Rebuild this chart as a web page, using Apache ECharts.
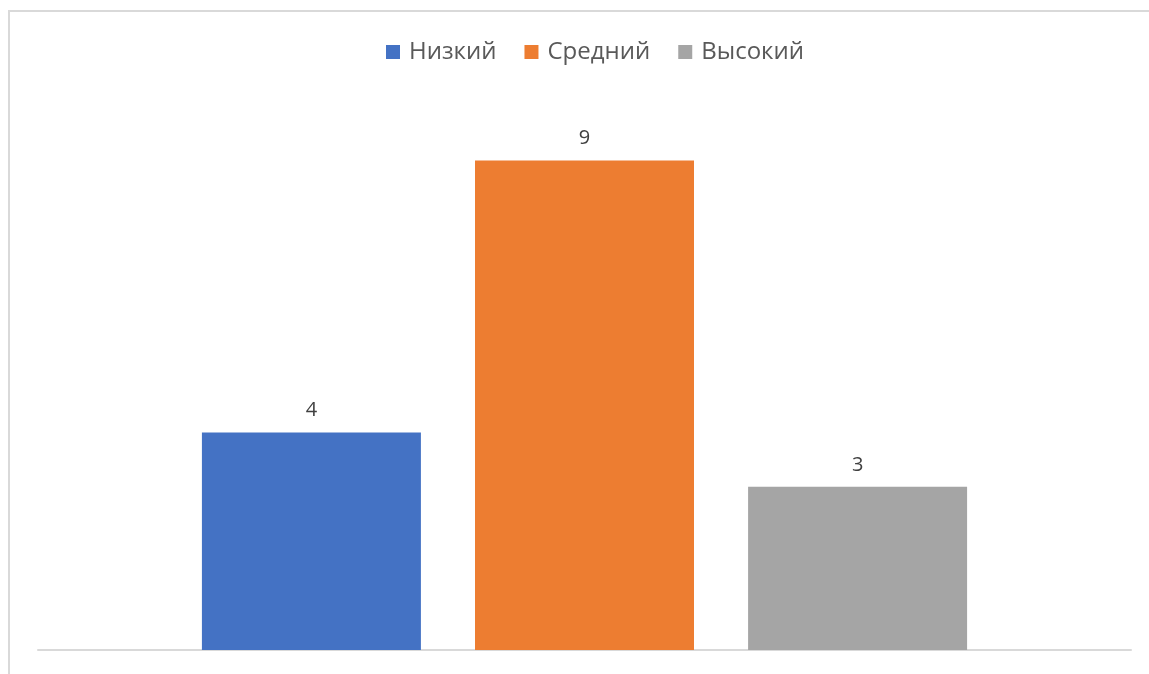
<!DOCTYPE html>
<html>
<head>
<meta charset="utf-8">
<script src="https://cdn.jsdelivr.net/npm/echarts@6/dist/echarts.min.js"></script>
<style>
  html, body { margin: 0; padding: 0; background: #ffffff; overflow: hidden; }
  #chart { width: 1149px; height: 674px; }
</style>
</head>
<body>
<div id="chart"></div>
<script>
// Distribution of levels
const categories = [''];
const seriesNames = ['Низкий', 'Средний', 'Высокий'];
const seriesValues = [[4], [9], [3]];
const seriesColors = ['#4472c4', '#ed7d31', '#a5a5a5'];

const chart = echarts.init(document.getElementById('chart'));

const series = seriesNames.map((name, i) => ({
  name: name,
  type: 'bar',
  data: seriesValues[i],
  barWidth: 219,
  barGap: '24.7%',
  itemStyle: { color: seriesColors[i] },
  label: {
    show: true,
    position: 'top',
    distance: 12,
    color: '#404040',
    fontSize: 20,
    fontFamily: 'Open Sans'
  }
}));

chart.setOption({
  animation: false,
  backgroundColor: '#ffffff',
  graphic: [{
    type: 'rect',
    shape: { x: 9, y: 11, width: 2000, height: 1000 },
    style: { fill: 'none', stroke: '#d9d9d9', lineWidth: 2 },
    silent: true,
    z: -1
  }],
  legend: {
    top: 35,
    left: 381,
    itemWidth: 14,
    itemHeight: 14,
    itemGap: 28,
    icon: 'rect',
    textStyle: {
      color: '#595959',
      fontSize: 24,
      fontFamily: 'Open Sans',
      padding: [0, 0, 0, 4]
    },
    data: seriesNames
  },
  grid: { left: 38, right: 18, top: 106, bottom: 24 },
  xAxis: {
    type: 'category',
    data: categories,
    axisLine: { lineStyle: { color: '#d9d9d9', width: 2 } },
    axisTick: { show: false },
    axisLabel: { show: false }
  },
  yAxis: {
    type: 'value',
    min: 0,
    max: 10,
    interval: 1,
    show: false,
    splitLine: { show: false }
  },
  series: series
});
</script>
</body>
</html>
